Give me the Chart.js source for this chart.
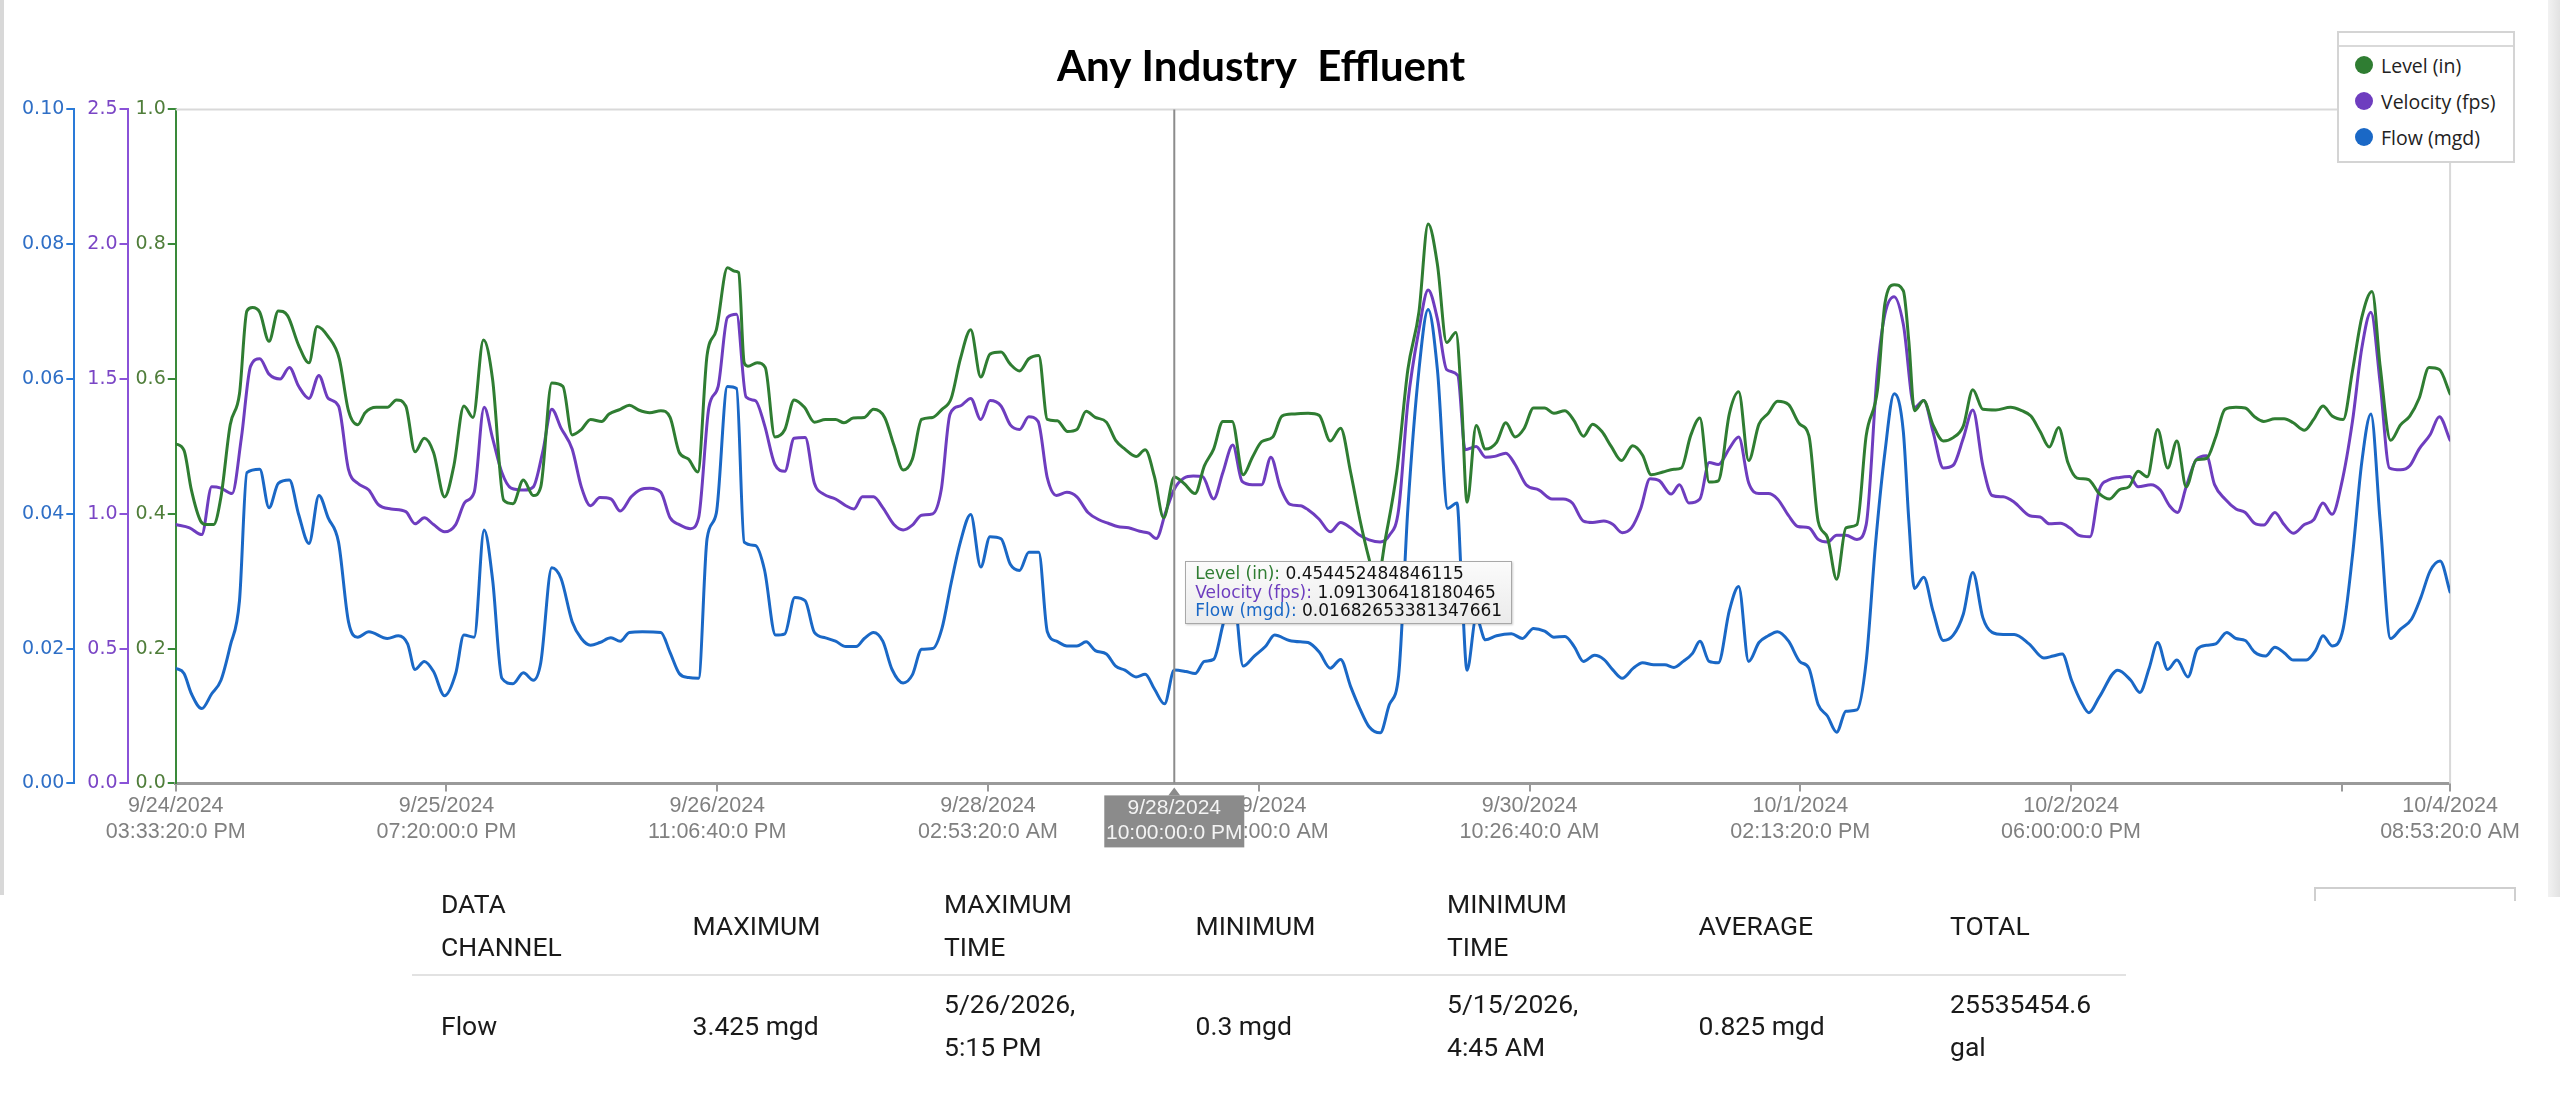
<!DOCTYPE html>
<html>
<head>
<meta charset="utf-8">
<title>Any Industry Effluent</title>
<script src="https://cdn.jsdelivr.net/npm/chart.js@4.4.1/dist/chart.umd.min.js"></script>
<style>
    html, body { margin: 0; padding: 0; background: #fff; }
    body { width: 2560px; height: 1112px; position: relative; overflow: hidden; }
    #chartBox { position: absolute; left: 0; top: 0; width: 2522px; height: 895px; }
    #edgeLeft { position: absolute; left: 0; top: 0; width: 4px; height: 895px; background: #d8d8d8; }
    #edgeRight { position: absolute; left: 2548px; top: 0; width: 12px; height: 897px; background: linear-gradient(to right, #f2f2f2, #e2e2e2); }
    #legend { position: absolute; left: 2337px; top: 31px; width: 174px; height: 128px; border: 2px solid #d4d4d4; background: #fff; font-family: "Open Sans", sans-serif; font-size: 19.5px; color: #222; }
    #legend .head { height: 12px; border-bottom: 2px solid #d9d9d9; }
    #legend .item { height: 36px; display: flex; align-items: center; padding-left: 16px; white-space: nowrap; }
    #legend .item:first-of-type { margin-top: 8px; }
    #legend .dot { width: 18px; height: 18px; border-radius: 50%; margin-right: 8px; flex: none; }
    #tip { position: absolute; display: none; padding: 2px 9px 3px; border: 1px solid #a8a8a8; background: linear-gradient(#fbfbfb, #ebebeb); box-shadow: 1px 1px 2px rgba(0,0,0,0.2); font-family: "DejaVu Sans", sans-serif; font-size: 17px; line-height: 18.5px; color: #111; white-space: nowrap; }
    #stats { position: absolute; left: 412px; top: 876px; width: 1714px; border-collapse: collapse; table-layout: fixed; font-family: Roboto, sans-serif; font-size: 26.5px; line-height: 43px; color: #1a1a1a; }
    #stats th, #stats td { text-align: left; font-weight: 400; padding: 6px 8px 6px 29px; vertical-align: middle; white-space: pre-line; }
    #stats thead th { border-bottom: 2px solid #e2e2e2; }
    #stub { position: absolute; left: 2314px; top: 887px; width: 198px; height: 12px; border: 2px solid #cfcfcf; border-bottom: none; }
</style>
</head>
<body>
<div id="chartBox"><canvas id="flowChart"></canvas></div>
<div id="edgeLeft"></div>
<div id="edgeRight"></div>
<div id="legend"></div>
<div id="tip"></div>
<div id="stub"></div>
<table id="stats">
    <colgroup><col style="width:251.5px"><col style="width:251.5px"><col style="width:251.5px"><col style="width:251.5px"><col style="width:251.5px"><col style="width:251.5px"><col style="width:205px"></colgroup>
    <thead><tr id="statsHead"></tr></thead>
    <tbody><tr id="statsBody"></tr></tbody>
</table>
<script>
// hours after 9/24/2024 03:33:20 PM
const levelHours = [0, 0.85, 1.61, 2.56, 3.12, 3.88, 4.64, 5.59, 6.54, 7.30, 7.87, 8.62, 9.57, 10.52, 11.47, 12.61, 13.67, 14.50, 15.64, 16.78,
    17.72, 18.67, 19.43, 20.57, 21.71, 22.65, 23.60, 24.55, 25.50, 26.45, 27.58, 28.53, 29.56, 30.50, 31.57, 32.51, 33.65, 34.60, 35.66, 36.69,
    37.45, 38.58, 39.72, 40.67, 41.61, 42.56, 43.70, 44.46, 45.60, 46.54, 47.49, 48.63, 49.77, 50.72, 51.66, 52.61, 53.56, 54.51, 55.46, 56.60,
    57.36, 57.75, 58.32, 58.70, 59.65, 60.48, 61.47, 62.49, 63.44, 64.50, 65.52, 66.66, 67.69, 68.56, 69.51, 70.64, 71.59, 72.73, 73.68, 74.63,
    75.57, 76.52, 77.66, 78.61, 79.55, 80.50, 81.56, 82.59, 83.54, 84.67, 85.62, 86.57, 87.52, 88.54, 89.42, 90.44, 91.50, 92.45, 93.40, 94.34,
    95.48, 96.43, 97.38, 98.52, 99.46, 100.41, 101.36, 102.4444, 103.45, 104.58, 105.53, 106.48, 107.43, 108.38, 109.51, 110.46, 111.41, 112.55, 113.49, 114.63,
    116.17, 117.31, 118.45, 119.51, 120.53, 121.48, 122.43, 123.19, 124.13, 125.27, 126.41, 127.55, 128.49, 129.44, 130.39, 131.34, 131.91, 132.48, 133.42, 134.37,
    135.51, 136.46, 137.41, 138.35, 139.30, 140.44, 141.39, 142.53, 143.47, 144.42, 145.37, 146.32, 147.27, 148.33, 149.47, 150.49, 151.36, 152.58, 153.71, 154.47,
    155.42, 156.37, 157.32, 158.26, 159.40, 160.35, 161.37, 162.43, 163.38, 164.33, 165.47, 166.61, 167.55, 168.50, 169.45, 170.40, 171.35, 172.48, 173.43, 174.59,
    175.35, 176.30, 177.24, 177.81, 178.38, 179.33, 180.28, 181.34, 182.36, 183.39, 184.37, 185.40, 186.72, 188.24, 189.38, 190.33, 191.28, 192.22, 193.17, 194.12,
    195.07, 196.21, 197.34, 198.40, 199.43, 200.38, 201.33, 202.27, 203.33, 204.36, 205.31, 206.26, 207.28, 208.34, 209.29, 210.24, 211.37, 212.32, 213.27, 214.22,
    215.36, 216.30, 217.25, 218.39, 219.34, 220.29, 221.23, 222.37, 223.32, 224.27, 225.33, 226.16, 227.23, 228.25, 229.20, 230.15, 231.17, 232.23, 233.3333];
const levelValues = [0.504, 0.494, 0.435, 0.389, 0.384, 0.384, 0.425, 0.532, 0.578, 0.701, 0.706, 0.699, 0.656, 0.701, 0.694, 0.650, 0.624, 0.678, 0.663, 0.630,
    0.553, 0.532, 0.550, 0.558, 0.558, 0.569, 0.560, 0.492, 0.512, 0.491, 0.425, 0.471, 0.560, 0.543, 0.658, 0.599, 0.420, 0.415, 0.450, 0.427,
    0.440, 0.594, 0.589, 0.517, 0.525, 0.540, 0.537, 0.548, 0.555, 0.561, 0.554, 0.550, 0.553, 0.543, 0.491, 0.481, 0.462, 0.635, 0.673, 0.765,
    0.760, 0.758, 0.624, 0.619, 0.624, 0.617, 0.514, 0.525, 0.569, 0.558, 0.536, 0.540, 0.540, 0.535, 0.542, 0.543, 0.555, 0.543, 0.502, 0.465,
    0.481, 0.540, 0.543, 0.555, 0.571, 0.630, 0.673, 0.603, 0.637, 0.640, 0.622, 0.612, 0.630, 0.635, 0.540, 0.538, 0.522, 0.525, 0.552, 0.543,
    0.536, 0.509, 0.496, 0.485, 0.495, 0.455, 0.394, 0.454452484846115, 0.445, 0.430, 0.471, 0.496, 0.537, 0.537, 0.458, 0.484, 0.507, 0.514, 0.545, 0.548,
    0.549, 0.546, 0.508, 0.527, 0.462, 0.392, 0.333, 0.295, 0.365, 0.462, 0.614, 0.700, 0.830, 0.770, 0.654, 0.669, 0.570, 0.417, 0.531, 0.496,
    0.506, 0.535, 0.514, 0.527, 0.557, 0.557, 0.549, 0.553, 0.538, 0.515, 0.533, 0.522, 0.500, 0.479, 0.501, 0.487, 0.458, 0.462, 0.466, 0.468,
    0.516, 0.542, 0.447, 0.449, 0.549, 0.581, 0.479, 0.533, 0.549, 0.567, 0.562, 0.533, 0.516, 0.389, 0.365, 0.303, 0.379, 0.384, 0.516, 0.584,
    0.712, 0.740, 0.731, 0.655, 0.553, 0.568, 0.532, 0.508, 0.513, 0.530, 0.584, 0.555, 0.554, 0.558, 0.553, 0.545, 0.522, 0.499, 0.528, 0.476,
    0.453, 0.451, 0.430, 0.422, 0.436, 0.440, 0.463, 0.455, 0.525, 0.468, 0.508, 0.440, 0.480, 0.482, 0.514, 0.555, 0.558, 0.557, 0.544, 0.537,
    0.541, 0.541, 0.535, 0.524, 0.540, 0.560, 0.545, 0.540, 0.612, 0.691, 0.730, 0.619, 0.509, 0.532, 0.545, 0.571, 0.617, 0.614, 0.578];

const velocityHours = [0, 1.42, 2.67, 3.69, 4.64, 5.78, 6.73, 7.68, 8.62, 9.57, 10.71, 11.66, 12.61, 13.67, 14.69, 15.64, 16.70, 17.72, 18.67, 19.81,
    20.76, 22.09, 23.60, 24.55, 25.50, 26.45, 27.58, 28.72, 29.67, 30.62, 31.64, 32.51, 33.46, 34.41, 35.74, 36.69, 37.64, 38.58, 39.53, 40.67,
    41.61, 42.56, 43.51, 44.65, 45.60, 46.73, 47.68, 48.63, 49.77, 50.72, 51.66, 52.80, 53.64, 54.70, 55.65, 56.60, 57.54, 58.51, 59.46, 60.40,
    61.47, 62.49, 63.44, 64.58, 65.52, 66.47, 67.69, 68.75, 69.58, 70.45, 71.59, 72.54, 73.68, 74.63, 75.57, 76.52, 77.66, 78.53, 79.44, 80.50,
    81.56, 82.59, 83.54, 84.67, 85.62, 86.57, 87.52, 88.47, 89.42, 90.36, 91.42, 92.45, 93.59, 94.72, 95.67, 96.62, 97.76, 98.90, 99.84, 100.60,
    101.55, 102.4444, 103.45, 104.39, 105.34, 106.48, 107.43, 108.45, 109.40, 110.46, 111.41, 112.36, 113.30, 114.33, 115.39, 116.17, 117.31, 118.45, 119.51, 120.53,
    121.48, 122.43, 123.57, 124.51, 125.46, 126.41, 127.55, 128.49, 129.44, 130.39, 131.53, 132.29, 133.42, 134.37, 135.32, 136.46, 137.41, 138.54, 139.87, 141.20,
    142.34, 143.28, 144.42, 145.37, 146.51, 147.46, 148.40, 149.35, 150.30, 151.25, 152.20, 153.41, 154.28, 155.23, 156.37, 157.32, 158.26, 159.40, 160.35, 161.37,
    162.43, 163.38, 164.33, 165.47, 166.42, 167.55, 168.50, 169.45, 170.40, 171.35, 172.48, 173.43, 174.59, 175.35, 176.30, 177.24, 178.38, 179.33, 180.28, 181.34,
    182.36, 183.39, 184.37, 185.40, 186.35, 187.48, 188.62, 190.21, 191.28, 192.22, 193.36, 194.31, 195.26, 196.40, 197.34, 198.29, 199.43, 200.45, 201.33, 202.65,
    203.60, 204.55, 205.38, 206.26, 207.28, 208.34, 209.17, 210.24, 211.37, 212.32, 213.27, 214.22, 215.36, 216.30, 217.25, 218.39, 219.34, 220.29, 221.23, 222.18,
    223.32, 224.27, 225.21, 226.16, 227.11, 228.25, 229.20, 230.15, 231.28, 232.23, 233.3333];
const velocityValues = [0.960, 0.948, 0.923, 1.100, 1.095, 1.075, 1.280, 1.548, 1.575, 1.518, 1.500, 1.543, 1.473, 1.428, 1.513, 1.428, 1.400, 1.165, 1.113, 1.088,
    1.035, 1.018, 1.008, 0.963, 0.985, 0.960, 0.933, 0.960, 1.043, 1.080, 1.395, 1.280, 1.153, 1.095, 1.088, 1.100, 1.228, 1.388, 1.318, 1.240,
    1.100, 1.030, 1.060, 1.055, 1.010, 1.063, 1.090, 1.095, 1.080, 0.985, 0.960, 0.945, 0.985, 1.395, 1.473, 1.728, 1.740, 1.433, 1.420, 1.330,
    1.183, 1.158, 1.280, 1.283, 1.113, 1.073, 1.055, 1.030, 1.018, 1.063, 1.063, 1.023, 0.960, 0.940, 0.958, 0.995, 1.000, 1.088, 1.370, 1.400,
    1.428, 1.350, 1.420, 1.400, 1.330, 1.313, 1.360, 1.343, 1.133, 1.068, 1.080, 1.063, 1.005, 0.978, 0.965, 0.953, 0.948, 0.935, 0.928, 0.908,
    1.005, 1.091306418180465, 1.133, 1.140, 1.138, 1.055, 1.153, 1.255, 1.120, 1.108, 1.108, 1.210, 1.100, 1.035, 1.030, 1.015, 0.980, 0.933, 0.968, 0.948,
    0.920, 0.903, 0.895, 0.920, 1.015, 1.413, 1.683, 1.830, 1.723, 1.535, 1.513, 1.238, 1.250, 1.210, 1.213, 1.225, 1.183, 1.108, 1.088, 1.055,
    1.055, 1.040, 0.973, 0.968, 0.973, 0.960, 0.930, 0.948, 1.020, 1.130, 1.123, 1.073, 1.108, 1.040, 1.055, 1.190, 1.183, 1.243, 1.285, 1.115,
    1.075, 1.075, 1.055, 0.993, 0.953, 0.948, 0.905, 0.895, 0.920, 0.920, 0.905, 0.960, 1.535, 1.740, 1.805, 1.703, 1.395, 1.420, 1.305, 1.170,
    1.180, 1.280, 1.385, 1.178, 1.068, 1.063, 1.043, 0.993, 0.988, 0.963, 0.965, 0.948, 0.920, 0.915, 1.088, 1.125, 1.135, 1.138, 1.100, 1.108,
    1.088, 1.030, 1.005, 1.100, 1.200, 1.215, 1.108, 1.055, 1.018, 1.005, 0.965, 0.958, 1.005, 0.960, 0.928, 0.960, 0.978, 1.040, 0.998, 1.108,
    1.343, 1.613, 1.748, 1.485, 1.170, 1.163, 1.178, 1.240, 1.293, 1.360, 1.273];

const flowHours = [0, 0.85, 1.61, 2.67, 3.69, 4.64, 5.59, 6.54, 7.30, 8.62, 9.57, 10.52, 11.66, 12.61, 13.67, 14.69, 15.64, 16.70, 17.72, 18.67,
    19.81, 21.71, 22.84, 23.79, 24.55, 25.50, 26.45, 27.58, 28.72, 29.56, 30.62, 31.64, 32.51, 33.46, 34.60, 35.66, 36.69, 37.45, 38.58, 39.53,
    40.67, 41.61, 42.56, 43.51, 44.65, 45.60, 46.54, 47.87, 49.77, 50.72, 51.66, 52.61, 53.64, 54.51, 55.46, 56.60, 57.54, 58.32, 59.46, 60.40,
    61.54, 62.49, 63.51, 64.58, 65.52, 66.66, 67.69, 68.75, 69.81, 70.64, 71.59, 72.54, 73.49, 74.63, 75.57, 76.52, 77.66, 78.61, 79.55, 80.50,
    81.56, 82.59, 83.54, 84.67, 85.62, 86.57, 87.52, 88.54, 89.42, 90.36, 91.42, 92.45, 93.40, 94.34, 95.48, 96.43, 97.38, 98.52, 99.46, 100.41,
    101.44, 102.4444, 103.64, 104.58, 105.53, 106.48, 107.43, 108.45, 109.51, 110.65, 111.79, 112.74, 114.25, 115.39, 116.17, 117.31, 118.45, 119.51, 120.53, 121.48,
    122.43, 123.57, 124.51, 125.46, 126.41, 127.55, 128.49, 129.44, 130.50, 131.45, 131.91, 132.48, 133.42, 134.37, 135.51, 137.03, 138.16, 139.30, 140.44, 141.39,
    142.53, 143.47, 144.42, 145.56, 146.51, 147.46, 148.40, 149.54, 150.49, 151.63, 152.77, 153.71, 154.66, 155.61, 156.37, 157.32, 158.26, 159.40, 160.35, 161.37,
    162.43, 163.38, 164.33, 165.47, 166.61, 167.55, 168.50, 169.45, 170.40, 171.35, 172.48, 173.43, 174.38, 175.35, 176.30, 177.24, 177.81, 178.38, 179.33, 180.28,
    181.34, 182.36, 183.39, 184.37, 185.40, 186.35, 187.48, 188.62, 190.14, 191.66, 192.60, 193.55, 194.50, 195.45, 196.28, 197.34, 199.24, 200.57, 201.51, 202.46,
    203.33, 204.36, 205.31, 206.44, 207.39, 208.34, 209.29, 210.43, 211.37, 212.32, 213.27, 214.41, 215.36, 216.30, 217.25, 218.58, 219.53, 220.29, 221.23, 222.37,
    223.32, 224.27, 225.21, 226.16, 227.23, 228.25, 229.39, 230.34, 231.28, 232.31, 233.3333];
const flowValues = [0.0171, 0.0163, 0.0133, 0.0111, 0.0133, 0.0153, 0.0204, 0.0271, 0.0461, 0.0466, 0.0409, 0.0445, 0.0450, 0.0399, 0.0356, 0.0427, 0.0394, 0.0358, 0.0240, 0.0217,
    0.0225, 0.0215, 0.0219, 0.0207, 0.0169, 0.0181, 0.0166, 0.0130, 0.0163, 0.0220, 0.0217, 0.0376, 0.0302, 0.0156, 0.0148, 0.0164, 0.0153, 0.0179, 0.0320, 0.0304,
    0.0240, 0.0215, 0.0205, 0.0209, 0.0216, 0.0211, 0.0224, 0.0225, 0.0224, 0.0194, 0.0163, 0.0157, 0.0156, 0.0363, 0.0401, 0.0589, 0.0586, 0.0358, 0.0353, 0.0317,
    0.0220, 0.0222, 0.0276, 0.0271, 0.0224, 0.0216, 0.0211, 0.0203, 0.0203, 0.0215, 0.0224, 0.0211, 0.0169, 0.0149, 0.0161, 0.0199, 0.0200, 0.0230, 0.0297, 0.0358,
    0.0399, 0.0321, 0.0366, 0.0363, 0.0325, 0.0316, 0.0343, 0.0343, 0.0225, 0.0211, 0.0204, 0.0204, 0.0210, 0.0197, 0.0192, 0.0174, 0.0168, 0.0158, 0.0162, 0.0140,
    0.0118, 0.01682653381347661, 0.0166, 0.0163, 0.0181, 0.0184, 0.0235, 0.0290, 0.0174, 0.0189, 0.0203, 0.0220, 0.0212, 0.0210, 0.0209, 0.0195, 0.0171, 0.0184, 0.0144, 0.0111,
    0.0084, 0.0075, 0.0117, 0.0160, 0.0408, 0.0614, 0.0703, 0.0614, 0.0408, 0.0416, 0.0300, 0.0168, 0.0246, 0.0213, 0.0219, 0.0222, 0.0215, 0.0230, 0.0226, 0.0217,
    0.0218, 0.0203, 0.0181, 0.0190, 0.0184, 0.0168, 0.0156, 0.0171, 0.0179, 0.0176, 0.0176, 0.0172, 0.0181, 0.0193, 0.0211, 0.0181, 0.0179, 0.0257, 0.0292, 0.0181,
    0.0209, 0.0219, 0.0225, 0.0211, 0.0181, 0.0171, 0.0117, 0.0100, 0.0076, 0.0107, 0.0109, 0.0181, 0.0354, 0.0491, 0.0578, 0.0522, 0.0389, 0.0289, 0.0306, 0.0256,
    0.0212, 0.0220, 0.0251, 0.0313, 0.0246, 0.0224, 0.0221, 0.0221, 0.0207, 0.0186, 0.0189, 0.0192, 0.0153, 0.0122, 0.0105, 0.0128, 0.0168, 0.0153, 0.0135, 0.0171,
    0.0209, 0.0169, 0.0183, 0.0158, 0.0199, 0.0205, 0.0207, 0.0224, 0.0215, 0.0212, 0.0195, 0.0189, 0.0202, 0.0194, 0.0183, 0.0183, 0.0197, 0.0219, 0.0204, 0.0230,
    0.0338, 0.0476, 0.0548, 0.0389, 0.0215, 0.0229, 0.0244, 0.0276, 0.0315, 0.0330, 0.0284];

const seriesLabels = ['Level (in)', 'Velocity (fps)', 'Flow (mgd)'];
const levelTicks = [0, 0.2, 0.4, 0.6, 0.8, 1.0];
const velocityTicks = [0, 0.5, 1.0, 1.5, 2.0, 2.5];
const flowTicks = [0, 0.02, 0.04, 0.06, 0.08, 0.10];
// seconds after the start; the 10/3 tick keeps its mark but has no label
const xTicks = [0, 100000, 200000, 300000, 400000, 500000, 600000, 700000, 800000, 840000];
const cursorHours = 102.4444;

const statHeaders = ['DATA\nCHANNEL', 'MAXIMUM', 'MAXIMUM\nTIME', 'MINIMUM', 'MINIMUM\nTIME', 'AVERAGE', 'TOTAL'];
const statRow = ['Flow', '3.425 mgd', '5/26/2026,\n5:15 PM', '0.3 mgd', '5/15/2026,\n4:45 AM', '0.825 mgd', '25535454.6\ngal'];

const startTime = new Date(2024, 8, 24, 15, 33, 20);
const GREEN = '#2f7d32';
const PURPLE = '#6e3dbf';
const BLUE = '#1a68c6';
const X_FONT = '"Liberation Sans", Arial, sans-serif';

function pad(n) {
    return String(n).padStart(2, '0');
}

function formatTime(seconds) {
    const d = new Date(startTime.getTime() + Math.round(seconds) * 1000);
    const h = d.getHours();
    const h12 = h % 12 === 0 ? 12 : h % 12;
    return [
        `${d.getMonth() + 1}/${d.getDate()}/${d.getFullYear()}`,
        `${pad(h12)}:${pad(d.getMinutes())}:${pad(d.getSeconds())}:0 ${h < 12 ? 'AM' : 'PM'}`
    ];
}

function toPoints(hours, values) {
    return hours.map((h, i) => ({ x: h * 3600, y: values[i] }));
}

function sideAxis(color, labelColor, ticks, digits, weight, extra) {
    return {
        type: 'linear',
        position: 'left',
        weight: weight,
        min: ticks[0],
        max: ticks[ticks.length - 1],
        afterBuildTicks: scale => { scale.ticks = ticks.map(v => ({ value: v })); },
        ticks: {
            color: labelColor,
            padding: 2,
            font: { family: '"DejaVu Sans", sans-serif', size: 19 },
            callback: v => v.toFixed(digits)
        },
        grid: { drawOnChartArea: false, color: color, lineWidth: 2, tickLength: 8 },
        border: { color: color, width: 2 },
        afterFit: scale => { scale.width += extra; }
    };
}

const plotFrame = {
    id: 'plotFrame',
    beforeDatasetsDraw(chart) {
        const { ctx, chartArea: a } = chart;
        ctx.save();
        ctx.strokeStyle = '#d9d9d9';
        ctx.lineWidth = 2;
        ctx.beginPath();
        ctx.moveTo(a.left, a.top);
        ctx.lineTo(a.right, a.top);
        ctx.lineTo(a.right, a.bottom);
        ctx.stroke();
        ctx.restore();
    }
};

const crosshair = {
    id: 'crosshair',
    afterDatasetsDraw(chart) {
        const active = chart.tooltip.getActiveElements();
        if (!active.length) return;
        const x = active[0].element.x;
        const { ctx, chartArea: a } = chart;
        ctx.save();
        ctx.strokeStyle = '#8c8c8c';
        ctx.lineWidth = 2;
        ctx.beginPath();
        ctx.moveTo(x, a.top);
        ctx.lineTo(x, a.bottom);
        ctx.stroke();
        ctx.restore();
    },
    afterDraw(chart) {
        const active = chart.tooltip.getActiveElements();
        if (!active.length) return;
        const x = active[0].element.x;
        const raw = chart.data.datasets[active[0].datasetIndex].data[active[0].index].x;
        const lines = formatTime(raw);
        const { ctx, chartArea: a } = chart;
        const top = a.bottom + 12;
        const w = 140, h = 52;
        ctx.save();
        ctx.fillStyle = '#8b8b8b';
        ctx.beginPath();
        ctx.moveTo(x - 6, top);
        ctx.lineTo(x, top - 8);
        ctx.lineTo(x + 6, top);
        ctx.closePath();
        ctx.fill();
        ctx.fillRect(x - w / 2, top, w, h);
        ctx.fillStyle = '#f4f4f4';
        ctx.font = '21px ' + X_FONT;
        ctx.textAlign = 'center';
        ctx.textBaseline = 'middle';
        ctx.fillText(lines[0], x, top + 13);
        ctx.fillText(lines[1], x, top + 38);
        ctx.restore();
    }
};

function externalTip(context) {
    const { chart, tooltip } = context;
    const tip = document.getElementById('tip');
    if (tooltip.opacity === 0 || !tooltip.dataPoints || !tooltip.dataPoints.length) {
        tip.style.display = 'none';
        return;
    }
    tip.innerHTML = tooltip.dataPoints.map(p => {
        const ds = p.dataset;
        return `<div><span style="color:${ds.borderColor}">${ds.label}:</span> ${String(p.parsed.y)}</div>`;
    }).join('');
    tip.style.display = 'block';
    tip.style.left = (chart.canvas.offsetLeft + tooltip.caretX + 11) + 'px';
    tip.style.top = (chart.canvas.offsetTop + tooltip.caretY + 16) + 'px';
}

const ctx = document.getElementById('flowChart').getContext('2d');
const chart = new Chart(ctx, {
    type: 'line',
    data: {
        datasets: [
            { label: seriesLabels[0], data: toPoints(levelHours, levelValues), yAxisID: 'yLevel', borderColor: GREEN, backgroundColor: GREEN },
            { label: seriesLabels[1], data: toPoints(velocityHours, velocityValues), yAxisID: 'yVelocity', borderColor: PURPLE, backgroundColor: PURPLE },
            { label: seriesLabels[2], data: toPoints(flowHours, flowValues), yAxisID: 'yFlow', borderColor: BLUE, backgroundColor: BLUE }
        ]
    },
    options: {
        responsive: true,
        maintainAspectRatio: false,
        animation: false,
        events: [],
        elements: {
            point: { radius: 0 },
            line: { borderWidth: 3, cubicInterpolationMode: 'monotone', borderCapStyle: 'round', borderJoinStyle: 'round' }
        },
        layout: { padding: { left: 6, right: 6, top: 0, bottom: 48 } },
        scales: {
            x: {
                type: 'linear',
                min: xTicks[0],
                max: xTicks[xTicks.length - 1],
                afterBuildTicks: scale => { scale.ticks = xTicks.map(v => ({ value: v })); },
                ticks: {
                    autoSkip: false,
                    maxRotation: 0,
                    padding: 2,
                    color: '#808080',
                    font: { family: X_FONT, size: 21.5 },
                    callback: (v, i, ticks) => i === ticks.length - 2 ? '' : formatTime(v)
                },
                grid: { drawOnChartArea: false, color: '#9a9a9a', lineWidth: 2, tickLength: 8 },
                border: { color: '#9a9a9a', width: 3 }
            },
            yLevel: sideAxis('#3a8a3a', '#4f7d3a', levelTicks, 1, 1, 6),
            yVelocity: sideAxis('#8a52d8', '#7a45c5', velocityTicks, 1, 2, 11),
            yFlow: sideAxis('#2a7ad8', '#2f6fc6', flowTicks, 2, 3, 14),
            // empty right gutter so the title centres where the original does
            gutter: {
                type: 'linear',
                position: 'right',
                ticks: { display: false },
                grid: { display: false, drawTicks: false },
                border: { display: false },
                afterFit: scale => { scale.width = 63; }
            }
        },
        plugins: {
            legend: { display: false },
            title: {
                display: true,
                text: 'Any Industry  Effluent',
                color: '#000',
                font: { family: 'Lato, sans-serif', size: 42, weight: 'bold' },
                padding: { top: 42, bottom: 17 }
            },
            tooltip: {
                enabled: false,
                position: 'average',
                external: externalTip
            }
        }
    },
    plugins: [plotFrame, crosshair]
});

// legend box
const legend = document.getElementById('legend');
legend.innerHTML = '<div class="head"></div>' + chart.data.datasets.map(ds =>
    `<div class="item"><span class="dot" style="background:${ds.borderColor}"></span>${ds.label}</div>`
).join('');

// hovered sample at 9/28/2024 10:00 PM
const active = [levelHours, velocityHours, flowHours].map((hours, i) => ({
    datasetIndex: i,
    index: hours.indexOf(cursorHours)
}));
chart.tooltip.setActiveElements(active, { x: 0, y: 0 });
chart.draw();

// stats table
document.getElementById('statsHead').innerHTML = statHeaders.map(t => `<th>${t}</th>`).join('');
document.getElementById('statsBody').innerHTML = statRow.map(t => `<td>${t}</td>`).join('');
</script>
</body>
</html>
